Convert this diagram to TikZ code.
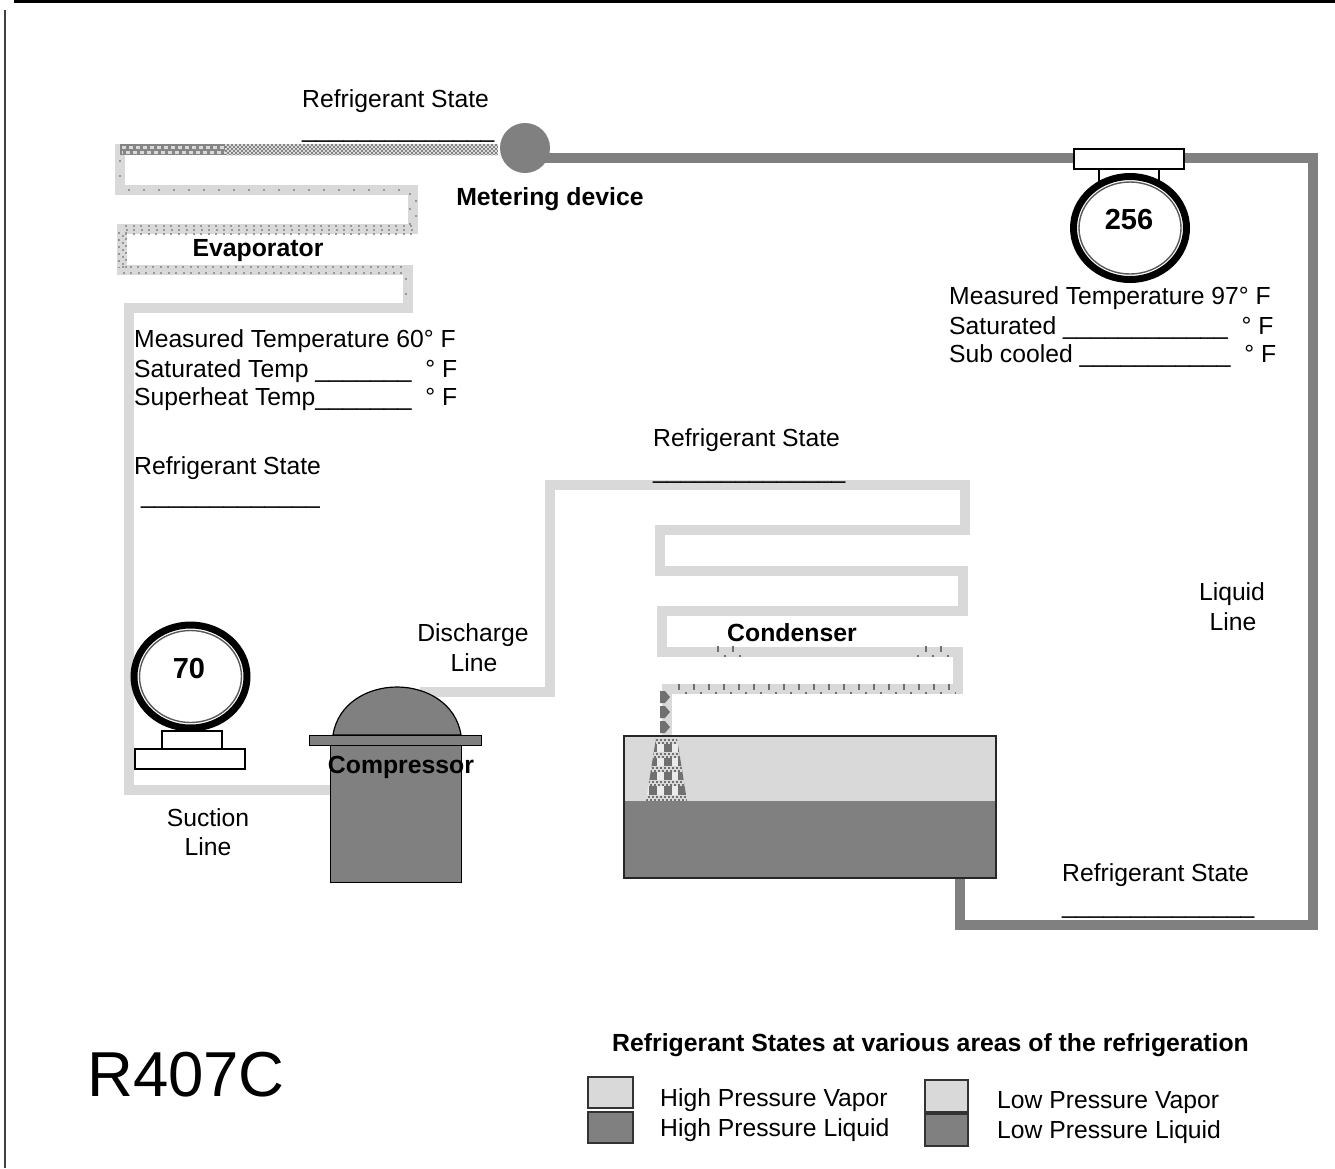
\documentclass[tikz,border=0pt]{standalone}
\usepackage{fontspec}
\setmainfont{Liberation Sans}
\usetikzlibrary{shapes.geometric}
\definecolor{lite}{HTML}{D9D9D9}
\definecolor{dark}{HTML}{808080}
\definecolor{dot}{HTML}{707070}
\definecolor{softdot}{HTML}{989898}
\newcommand{\blank}[1]{\foreach \i in {1,...,#1}{\_}}
\tikzset{
 x=1pt,y=-1pt,
 pipelite/.style={draw=lite,line width=10pt,line join=miter},
 pipedark/.style={draw=dark,line width=10pt,line join=miter},
 sparse/.style={draw=softdot,line width=2pt,dash pattern=on 2pt off 13pt},
 stag/.style={draw=softdot,line width=1.8pt},
 tick/.style={draw=dot,line width=6pt,dash pattern=on 1.6pt off 13.4pt},
 dotrow/.style={draw=dot,line width=1.6pt,dash pattern=on 1.6pt off 13.4pt},
 lbl/.style={anchor=base west,inner sep=0pt,font=\fontsize{24.7}{24.7}\selectfont},
 lblc/.style={anchor=base,inner sep=0pt,font=\fontsize{24.7}{24.7}\selectfont},
 blbl/.style={anchor=base,inner sep=0pt,font=\fontsize{24.8}{24.8}\selectfont\bfseries},
 box/.style={draw=black,line width=1.5pt,fill=white},
 swatchl/.style={draw=black!80,line width=2pt,fill=lite,anchor=north west,inner sep=0pt},
 swatchd/.style={draw=black!80,line width=2pt,fill=dark,anchor=north west,inner sep=0pt},
 gaugering/.style={ellipse,draw=black,line width=7pt,fill=white,inner sep=0pt},
 gaugeinner/.style={draw=black!65,line width=1.4pt},
}
\begin{document}
\begin{tikzpicture}
\useasboundingbox (0,0) rectangle (1335,1168);
% frame
\draw[black,line width=2.6pt] (14,1.3) -- (1335,1.3);
\draw[black!75,line width=2pt] (5,10) -- (5,1168);

% named anchors of the pipework
\node[circle,fill=dark,minimum size=50pt,inner sep=0pt] (meter) at (525,148) {};
\coordinate (evapin) at (498,149);
\coordinate (compsuc) at (332,790);
\coordinate (compdis) at (420,692);
\coordinate (tankin) at (667,738);
\coordinate (tankout) at (960,876);

% evaporator and suction
\draw[pipelite] (evapin) -- (120,149) -- (120,190) -- (413,190) -- (413,229) -- (122,229) -- (122,270) -- (408,270) -- (408,308) -- (129,308) -- (129,790) -- (compsuc);
% discharge and condenser
\draw[pipelite] (compdis) -- (550,692) -- (550,485) -- (965,485) -- (965,530) -- (660,530) -- (660,571) -- (963,571) -- (963,611) -- (662,611) -- (662,652) -- (958,652) -- (958,689) -- (667,689) -- (tankin);
% liquid line
\draw[pipedark] (tankout) -- (960,925) -- (1313,925) -- (1313,158) -- (meter.center |- 0,158);

% evaporator texture
\fill[dot!85] (120,144) rectangle (498,155);
\foreach \yy/\ph in {145/0,147/2,149/0,151/2,153/0,155/2}
  \draw[white!85!black,line width=2pt,dash pattern=on 2pt off 2pt,dash phase=\ph] (225,\yy) -- (498,\yy);
\foreach \yy/\ph in {147/0,152/3}
  \draw[lite,line width=3pt,dash pattern=on 4pt off 3pt,dash phase=\ph] (122,\yy) -- (225,\yy);
\draw[sparse] (120,160) -- (120,188);
\draw[sparse] (128,190) -- (408,190);
\draw[stag,dash pattern=on 2pt off 13pt] (410,193) -- (410,226);
\draw[stag,dash pattern=on 2pt off 13pt] (416,200) -- (416,226);
\foreach \yy/\ph in {226/0,230/7,234/0}
  \draw[stag,dash pattern=on 2pt off 5.5pt,dash phase=\ph] (125,\yy) -- (415,\yy);
\foreach \xx/\ph in {119/0,123/4,126/8}
  \draw[stag,dash pattern=on 2pt off 5pt,dash phase=\ph] (\xx,232) -- (\xx,268);
\foreach \yy/\ph in {267/0,273/7}
  \draw[stag,dash pattern=on 2pt off 5.5pt,dash phase=\ph] (122,\yy) -- (405,\yy);
\draw[stag,dash pattern=on 2pt off 13pt] (406,278) -- (406,305);

% condenser ticks
\draw[tick] (717,649) -- (740,649);
\draw[dotrow] (724,656) -- (741,656);
\draw[tick] (925,649) -- (945,649);
\draw[dotrow] (917,656) -- (950,656);
\draw[tick] (678,687) -- (956,687);
\draw[dotrow] (685,693) -- (956,693);

% tank
\node[draw=none,fill=lite,anchor=north west,minimum width=372pt,minimum height=65pt,inner sep=0pt] (tanktop) at (624,736) {};
\node[draw=none,fill=dark,anchor=north west,minimum width=372pt,minimum height=77pt,inner sep=0pt] (tankbot) at (624,801) {};
\draw[black!85,line width=2pt] (624,736) rectangle (996,878);

% spray
\begin{scope}
\clip (656,738) -- (677,738) -- (687,801) -- (646,801) -- cycle;
\fill[white!92!black] (640,738) rectangle (690,801);
\foreach \xx in {653,668,682} \fill[dot] (\xx-4,738) rectangle (\xx+4,801);
\foreach \yy in {741,755,769,783,798} {
  \fill[lite] (640,\yy-3) rectangle (690,\yy+3);
  \draw[dot,line width=2pt,dash pattern=on 2pt off 2pt] (640,\yy-1.5) -- (690,\yy-1.5);
  \draw[dot,line width=2pt,dash pattern=on 2pt off 2pt,dash phase=2] (640,\yy+1.5) -- (690,\yy+1.5);
}
\end{scope}
% droplets
\foreach \yy in {697,712,727}
  \fill[dot] (660,\yy-6) -- (665,\yy-6) -- (670,\yy) -- (665,\yy+6) -- (660,\yy+6) -- cycle;

% compressor
\fill[dark,draw=black,line width=1.2pt] (333,735) .. controls (338,703) and (368,687) .. (397,687) .. controls (426,687) and (456,703) .. (461,735) -- cycle;
\node[draw=black,line width=1.2pt,fill=dark,anchor=north west,minimum width=131pt,minimum height=137pt,inner sep=0pt] (comp) at (330,745) {};
\node[draw=black,line width=1.2pt,fill=dark,anchor=north west,minimum width=172pt,minimum height=10pt,inner sep=0pt] (plate) at (309,735) {};
\node[blbl] (complbl) at (401,773) {Compressor};

% gauge 256
\node[box,anchor=north west,minimum width=60pt,minimum height=14pt,inner sep=0pt] (neckA) at (1098,166) {};
\node[box,anchor=north west,minimum width=110pt,minimum height=20pt,inner sep=0pt] (baseA) at (1073,148) {};
\node[gaugering,minimum width=113pt,minimum height=103pt] (gaugeA) at (1130,228) {};
\draw[gaugeinner] (gaugeA.center) ellipse [x radius=51,y radius=46];
\node[inner sep=0pt,anchor=base,font=\fontsize{29}{29}\selectfont] (valA) at (1129,229) {\textbf{256}};

% gauge 70
\node[box,anchor=north west,minimum width=60pt,minimum height=18pt,inner sep=0pt] (neckB) at (161,730) {};
\node[box,anchor=north west,minimum width=110pt,minimum height=20pt,inner sep=0pt] (baseB) at (134,748) {};
\node[gaugering,minimum width=113pt,minimum height=103pt] (gaugeB) at (190.5,676.5) {};
\draw[gaugeinner] (gaugeB.center) ellipse [x radius=51,y radius=46];
\node[inner sep=0pt,anchor=base,font=\fontsize{29}{29}\selectfont] (valB) at (189,678) {\textbf{70}};

% labels
\node[lbl] (rs1) at (302,107) {Refrigerant State};
\node[lbl] (rs1b) at (302,137) {\blank{14}};
\node[blbl] (mlbl) at (550,205) {Metering device};
\node[blbl] (elbl) at (258,256) {Evaporator};
\node[lbl] (m1) at (134,347) {Measured Temperature 60° F};
\node[lbl] (m2) at (134,377) {Saturated Temp \blank{7}\ \ ° F};
\node[lbl] (m3) at (134,405) {Superheat Temp\blank{7}\ \ ° F};
\node[lbl] (rs2) at (134,474) {Refrigerant State};
\node[lbl] (rs2b) at (141,503) {\blank{13}};
\node[lbl] (rs3) at (653,446) {Refrigerant State};
\node[lbl] (rs3b) at (653,478) {\blank{14}};
\node[lbl] (t1) at (949,304) {Measured Temperature 97° F};
\node[lbl] (t2) at (949,334) {Saturated \blank{12}\ \ ° F};
\node[lbl] (t3) at (949,362) {Sub cooled \blank{11}\ \ ° F};
\node[lblc] (ll1) at (1232,600) {Liquid};
\node[lblc] (ll2) at (1233,630) {Line};
\node[lblc] (dl1) at (473,641) {Discharge};
\node[lblc] (dl2) at (474,671) {Line};
\node[lblc] (sl1) at (208,826) {Suction};
\node[lblc] (sl2) at (208,855) {Line};
\node[blbl] (clbl) at (792,641) {Condenser};
\node[lbl] (rs4) at (1062,881) {Refrigerant State};
\node[lbl] (rs4b) at (1062,913) {\blank{14}};
\node[anchor=base west,inner sep=0pt,font=\fontsize{63.5}{63.5}\selectfont] (title) at (87,1096) {R407C};

% legend
\node[blbl,anchor=base west] (leg) at (612,1051) {Refrigerant States at various areas of the refrigeration};
\node[swatchl,minimum width=45pt,minimum height=31pt] (s1) at (587,1076) {};
\node[swatchd,minimum width=45pt,minimum height=31pt] (s2) at (587,1111) {};
\node[swatchl,minimum width=43pt,minimum height=32pt] (s3) at (924,1079) {};
\node[swatchd,minimum width=43pt,minimum height=32pt] (s4) at (924,1113) {};
\node[lbl] (l1) at (660,1106) {High Pressure Vapor};
\node[lbl] (l2) at (660,1136) {High Pressure Liquid};
\node[lbl] (l3) at (997,1108) {Low Pressure Vapor};
\node[lbl] (l4) at (997,1138) {Low Pressure Liquid};
\end{tikzpicture}
\end{document}
